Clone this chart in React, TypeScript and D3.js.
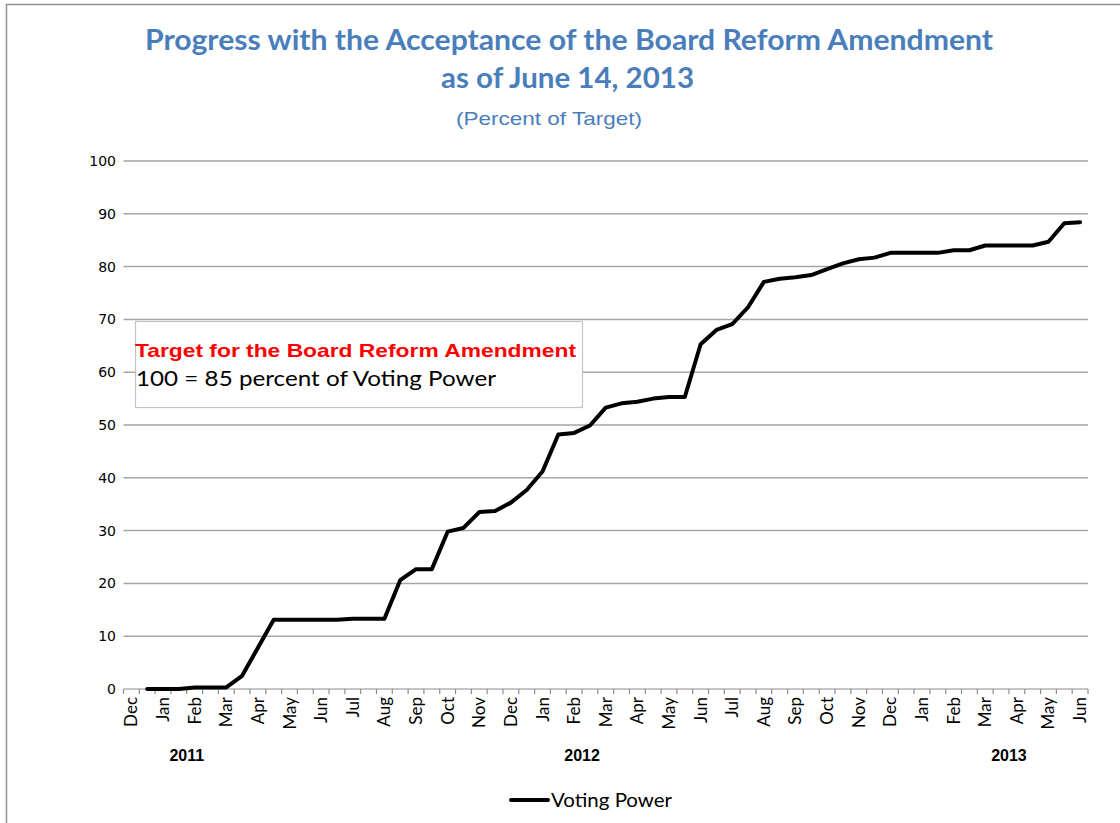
import React, { useEffect, useRef } from 'react';
import * as d3 from 'd3';

// month labels, one for every second category (Dec 2010 .. Jun 2013)
const monthLabels = [
  'Dec', 'Jan', 'Feb', 'Mar', 'Apr', 'May', 'Jun', 'Jul', 'Aug', 'Sep', 'Oct', 'Nov',
  'Dec', 'Jan', 'Feb', 'Mar', 'Apr', 'May', 'Jun', 'Jul', 'Aug', 'Sep', 'Oct', 'Nov',
  'Dec', 'Jan', 'Feb', 'Mar', 'Apr', 'May', 'Jun',
];

// year group labels and the category they sit under
const yearLabels = ['2011', '2012', '2013'];
const yearCategory = [3.5, 28.5, 55.5];

// voting power (percent of target), one value per category starting at category 1
const votingPower = [
  0, 0, 0, 0.3, 0.3, 0.3, 2.5, 7.8, 13.1, 13.1,
  13.1, 13.1, 13.1, 13.3, 13.3, 13.3, 20.6, 22.7, 22.7, 29.8,
  30.5, 33.5, 33.7, 35.3, 37.7, 41.2, 48.2, 48.5, 49.9, 53.3,
  54.1, 54.4, 55.0, 55.3, 55.3, 65.3, 68.0, 69.1, 72.3, 77.1,
  77.7, 78.0, 78.4, 79.5, 80.6, 81.4, 81.7, 82.6, 82.6, 82.6,
  82.6, 83.1, 83.1, 84.0, 84.0, 84.0, 84.0, 84.7, 88.2, 88.4,
];

const yTicks = [0, 10, 20, 30, 40, 50, 60, 70, 80, 90, 100];

const W = 1120;
const H = 823;
const BLUE = '#4a7ebb';
const CAL = 'Lato, "Open Sans", sans-serif';

const App: React.FC = () => {
  const svgRef = useRef<SVGSVGElement>(null);

  useEffect(() => {
    if (!svgRef.current) return;
    const svg = d3.select(svgRef.current);
    svg.selectAll('*').remove();

    const left = 123.5;
    const right = 1088;
    const top = 161;
    const bottom = 689;
    const nCat = monthLabels.length * 2 - 1;

    const x = d3.scaleBand<number>().domain(d3.range(nCat)).range([left, right]).padding(0);
    const cx = (i: number) => (x(i) as number) + x.bandwidth() / 2;
    const y = d3.scaleLinear().domain([0, 100]).range([bottom, top]);

    svg.append('rect').attr('width', W).attr('height', H).attr('fill', '#fff');
    svg
      .append('rect')
      .attr('x', 6.5)
      .attr('y', 4.5)
      .attr('width', W + 50)
      .attr('height', H + 50)
      .attr('fill', 'none')
      .attr('stroke', '#8f8f8f')
      .attr('stroke-width', 1.5);

    // titles
    const title = svg.append('g').attr('fill', BLUE).attr('text-anchor', 'middle');
    title
      .append('text')
      .attr('x', 569)
      .attr('y', 50)
      .attr('font-family', CAL)
      .attr('font-weight', 'bold')
      .attr('font-size', 28)
      .attr('textLength', 848)
      .attr('lengthAdjust', 'spacingAndGlyphs')
      .text('Progress with the Acceptance of the Board Reform Amendment');
    title
      .append('text')
      .attr('x', 567.5)
      .attr('y', 88)
      .attr('font-family', CAL)
      .attr('font-weight', 'bold')
      .attr('font-size', 28)
      .attr('textLength', 253)
      .attr('lengthAdjust', 'spacingAndGlyphs')
      .text('as of June 14, 2013');
    title
      .append('text')
      .attr('x', 549)
      .attr('y', 125)
      .attr('font-family', '"Liberation Sans Narrow", "Liberation Sans", sans-serif')
      .attr('font-size', 19)
      .attr('textLength', 186)
      .attr('lengthAdjust', 'spacingAndGlyphs')
      .text('(Percent of Target)');

    // gridlines
    svg
      .append('g')
      .selectAll('line')
      .data(yTicks.filter((d) => d > 0))
      .join('line')
      .attr('x1', left)
      .attr('x2', right)
      .attr('y1', (d) => y(d))
      .attr('y2', (d) => y(d))
      .attr('stroke', '#a6a6a6')
      .attr('stroke-width', 1.5);

    // y labels
    svg
      .append('g')
      .attr('font-family', '"DejaVu Sans", Verdana, sans-serif')
      .attr('font-size', 14)
      .attr('text-anchor', 'end')
      .selectAll('text')
      .data(yTicks)
      .join('text')
      .attr('x', 116)
      .attr('y', (d) => y(d) + 5)
      .text((d) => d);

    // x axis with a tick at every category edge
    const axis = svg.append('g').attr('stroke', '#8c8c8c').attr('stroke-width', 1.2);
    axis.append('line').attr('x1', left).attr('x2', right).attr('y1', bottom).attr('y2', bottom);
    axis
      .selectAll('line.tick')
      .data(d3.range(nCat + 1))
      .join('line')
      .attr('class', 'tick')
      .attr('x1', (i) => left + i * x.bandwidth())
      .attr('x2', (i) => left + i * x.bandwidth())
      .attr('y1', bottom)
      .attr('y2', bottom + 5);

    svg
      .append('g')
      .attr('font-family', CAL)
      .attr('font-size', 17)
      .attr('text-anchor', 'end')
      .selectAll('text')
      .data(monthLabels)
      .join('text')
      .attr('transform', (_, i) => `translate(${cx(i * 2) + 6},697) rotate(-90)`)
      .text((d) => d);

    svg
      .append('g')
      .attr('font-family', '"Liberation Sans", Arial, sans-serif')
      .attr('font-weight', 'bold')
      .attr('font-size', 16)
      .attr('text-anchor', 'middle')
      .selectAll('text')
      .data(yearLabels)
      .join('text')
      .attr('x', (_, i) => left + (yearCategory[i] + 0.5) * x.bandwidth())
      .attr('y', 761)
      .text((d) => d);

    // target box
    const box = svg.append('g');
    box
      .append('rect')
      .attr('x', 135.5)
      .attr('y', 321.5)
      .attr('width', 447)
      .attr('height', 86)
      .attr('fill', '#fff')
      .attr('stroke', '#bfc4c4')
      .attr('stroke-width', 1.2);
    box
      .append('text')
      .attr('x', 135)
      .attr('y', 357)
      .attr('fill', '#ff0000')
      .attr('font-family', '"Liberation Sans", Arial, sans-serif')
      .attr('font-weight', 'bold')
      .attr('font-size', 19)
      .attr('textLength', 441)
      .attr('lengthAdjust', 'spacingAndGlyphs')
      .text('Target for the Board Reform Amendment');
    box
      .append('text')
      .attr('x', 136)
      .attr('y', 386)
      .attr('fill', '#000')
      .attr('font-family', CAL)
      .attr('font-size', 22)
      .attr('textLength', 360)
      .attr('lengthAdjust', 'spacingAndGlyphs')
      .text('100 = 85 percent of Voting Power');

    // series line
    const line = d3
      .line<number>()
      .x((_, i) => cx(i + 1))
      .y((d) => y(d));
    svg
      .append('path')
      .datum(votingPower)
      .attr('d', line)
      .attr('fill', 'none')
      .attr('stroke', '#000')
      .attr('stroke-width', 4)
      .attr('stroke-linejoin', 'round')
      .attr('stroke-linecap', 'round');

    // legend
    const lg = svg.append('g');
    lg.append('line')
      .attr('x1', 511)
      .attr('x2', 548)
      .attr('y1', 800)
      .attr('y2', 800)
      .attr('stroke', '#000')
      .attr('stroke-width', 4)
      .attr('stroke-linecap', 'round');
    lg.append('text')
      .attr('x', 551)
      .attr('y', 807)
      .attr('font-family', CAL)
      .attr('font-size', 20)
      .attr('textLength', 121)
      .attr('lengthAdjust', 'spacingAndGlyphs')
      .text('Voting Power');
  }, []);

  return (
    <div style={{ position: 'absolute', left: 0, top: 0 }}>
      <svg ref={svgRef} width={W} height={H} style={{ display: 'block' }} />
    </div>
  );
};

export default App;
